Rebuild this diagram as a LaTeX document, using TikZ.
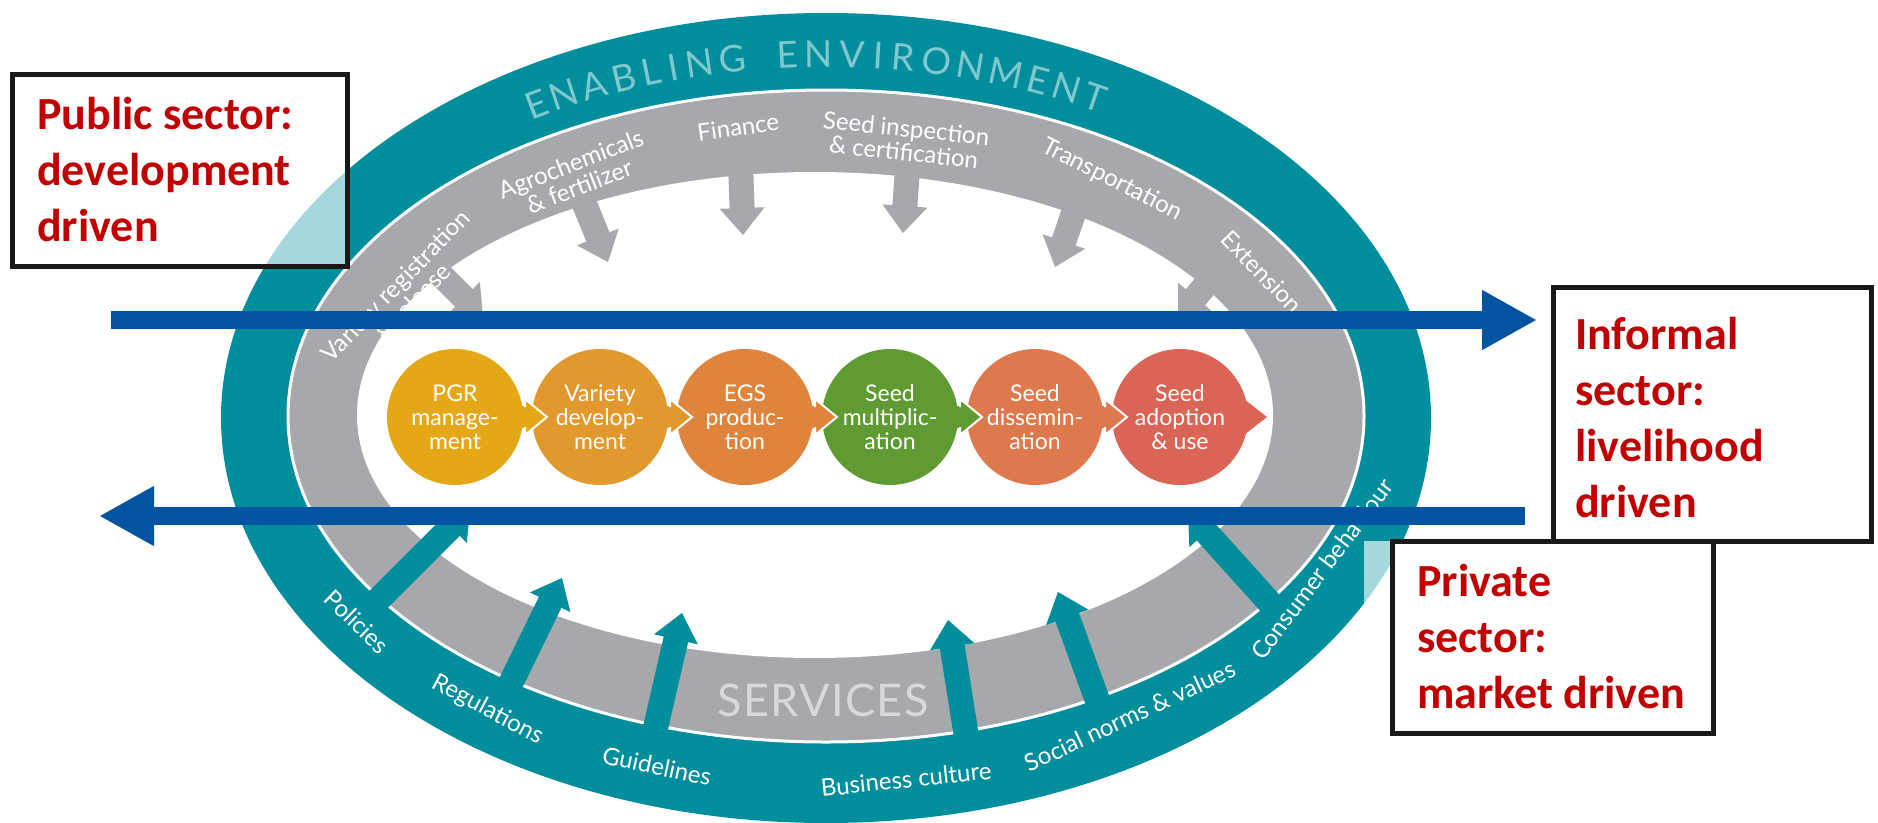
\documentclass[tikz,border=0pt]{standalone}
\usepackage{fontspec}
\setmainfont{Lato}
\newfontfamily\calibrifont{Carlito}
\usetikzlibrary{arrows.meta}
\definecolor{envteal}{RGB}{0,142,157}
\definecolor{envlight}{RGB}{128,199,206}
\definecolor{servgray}{RGB}{166,168,171}
\definecolor{servlight}{RGB}{214,216,218}
\definecolor{flowblue}{RGB}{0,84,160}
\definecolor{sectorred}{RGB}{192,0,0}
\definecolor{pgrcol}{RGB}{228,167,22}
\definecolor{varcol}{RGB}{225,152,45}
\definecolor{egscol}{RGB}{223,132,60}
\definecolor{multcol}{RGB}{95,155,50}
\definecolor{disscol}{RGB}{222,121,78}
\definecolor{adoptcol}{RGB}{218,100,85}
\tikzstyle{stage} = [circle, minimum size=136pt, inner sep=0pt, outer sep=0pt, text=white, align=center, font=\fontsize{23}{24}\selectfont]
\tikzstyle{ringlabel} = [text=white, align=center, inner sep=0pt, font=\fontsize{24}{24}\selectfont]
\tikzstyle{sectorbox} = [draw=black!90, line width=5pt, outer sep=0pt, inner sep=0pt, anchor=north west]
\tikzstyle{sectortext} = [text=sectorred, align=left, inner sep=0pt, anchor=west, font=\calibrifont\bfseries\fontsize{46}{56}\selectfont]
\tikzstyle{flow} = [line width=18pt, flowblue, -{Triangle[length=55pt,width=56pt]}]
\newcommand{\ringarrow}[4]{\fill[#4, shift={(#1)}, rotate=#2] (0,0) -- (-27,22.5) -- (-27,12.5) -- (-#3,12.5) -- (-#3,-12.5) -- (-27,-12.5) -- (-27,-22.5) -- cycle;}
\newcommand{\stagelink}[2]{%
  \fill[#2] (#1.east) ++(-8,-11) -- ++(10,0) -- ++(0,-7) -- ++(22,18) -- ++(-22,18) -- ++(0,-7) -- ++(-10,0) -- cycle;
  \draw[white, line width=2pt] (#1.east) ++(1,-11) -- ++(1,0) -- ++(0,-7) -- ++(22,18) -- ++(-22,18) -- ++(0,-7) -- ++(-1,0);}

\begin{document}
\begin{tikzpicture}[x=1pt, y=-1pt]
\useasboundingbox (0,0) rectangle (1878,822);

\fill[envteal] (826,418) ellipse [x radius=605, y radius=405];
\filldraw[fill=servgray, draw=white, line width=3pt] (826,416) ellipse [x radius=538, y radius=326];
\fill[white] (815,415) ellipse [x radius=458, y radius=243];

\ringarrow{483,317}{-45}{75}{servgray}
\ringarrow{608,262}{-68}{75}{servgray}
\ringarrow{743,235}{-88}{75}{servgray}
\ringarrow{903,233}{-94}{75}{servgray}
\ringarrow{1055,267}{-109}{75}{servgray}
\ringarrow{1178,318}{-130}{75}{servgray}

\ringarrow{470,508}{45}{150}{envteal}
\ringarrow{562,578}{64}{150}{envteal}
\ringarrow{682,613}{77}{150}{envteal}
\ringarrow{948,620}{99}{150}{envteal}
\ringarrow{1058,592}{110}{140}{envteal}
\ringarrow{1188,512}{132}{150}{envteal}

\foreach \ch/\s [count=\i] in {E/0.275, N/1.21, A/2.21, B/3.165, L/4.03, I/4.715, N/5.51, G/6.53,
    E/8.165, N/9.10, V/10.10, I/10.875, R/11.625, O/12.63, N/13.68, M/14.78, E/15.795, N/16.73, T/17.675} {
  \pgfmathsetmacro\t{120.5-(\s-0.275)*3.373}
  \pgfmathsetmacro\rot{atan2(-364*cos(\t), 570*sin(\t))}
  \node[text=envlight, inner sep=0pt, rotate=\rot, font=\fontsize{37}{37}\selectfont] (env\i) at ({826+570*cos(\t)}, {418-364*sin(\t)}) {\ch};
}
\node[text=servlight, font=\fontsize{45}{45}\selectfont\addfontfeature{LetterSpace=3}] (serv) at (823,700) {SERVICES};

\node[ringlabel, rotate=46] (varreg) at (404,294) {Variety registration\\\& release};
\node[ringlabel, rotate=21] (agro) at (575,175) {Agrochemicals\\\& fertilizer};
\node[ringlabel, rotate=8] (fin) at (738,127) {Finance};
\node[ringlabel, rotate=-6] (insp) at (905,140) {Seed inspection\\\& certification};
\node[ringlabel, rotate=-27] (trans) at (1112,180) {Transportation};
\node[ringlabel, rotate=-46] (ext) at (1262,272) {Extension};

\node[ringlabel, rotate=-44] (pol) at (357,622) {Policies};
\node[ringlabel, rotate=-28] (reg) at (488,710) {Regulations};
\node[ringlabel, rotate=-12] (guide) at (657,766) {Guidelines};
\node[ringlabel, rotate=6] (bus) at (906,779) {Business culture};
\node[ringlabel, rotate=25] (soc) at (1130,716) {Social norms \& values};
\node[ringlabel, rotate=53] (cons) at (1322,569) {Consumer behaviour};

\node[stage, fill=pgrcol] (pgr) at (455,417) {PGR\\manage-\\ment};
\node[stage, fill=varcol] (var) at (600,417) {Variety\\develop-\\ment};
\node[stage, fill=egscol] (egs) at (745,417) {EGS\\produc-\\tion};
\node[stage, fill=multcol] (mult) at (890,417) {Seed\\multiplic-\\ation};
\node[stage, fill=disscol] (diss) at (1035,417) {Seed\\dissemin-\\ation};
\node[stage, fill=adoptcol] (adopt) at (1180,417) {Seed\\adoption\\\& use};
\stagelink{pgr}{pgrcol}
\stagelink{var}{varcol}
\stagelink{egs}{egscol}
\stagelink{mult}{multcol}
\stagelink{diss}{disscol}
\fill[adoptcol] (adopt.east) ++(-8,-11) -- ++(4,0) -- ++(0,-7) -- ++(23,18) -- ++(-23,18) -- ++(0,-7) -- ++(-4,0) -- cycle;

\node[sectorbox, minimum width=335pt, minimum height=192pt, fill=white, fill opacity=0.65] (public) at (12,74) {};
\node[sectortext] (publictext) at ([xshift=25pt]public.west) {Public sector:\\development\\driven};
\fill[white, fill opacity=0.65] (1364,541) rectangle (1392,733);
\node[sectorbox, minimum width=321pt, minimum height=192pt, fill=white] (private) at (1392,541) {};
\node[sectortext] (privatetext) at ([xshift=25pt]private.west) {Private\\sector:\\market driven};
\node[sectorbox, minimum width=318pt, minimum height=254pt, fill=white] (informal) at (1553,287) {};
\node[sectortext] (informaltext) at ([xshift=22pt, yshift=-4pt]informal.west) {Informal\\sector:\\livelihood\\driven};

\coordinate (eastfrom) at (111,320);
\coordinate (westfrom) at (1525,516);
\coordinate (westto) at (99,516);
\draw[flow, shorten >=16pt] (eastfrom) -- (informal.west |- eastfrom);
\draw[flow] (westfrom) -- (westto);
\end{tikzpicture}
\end{document}
